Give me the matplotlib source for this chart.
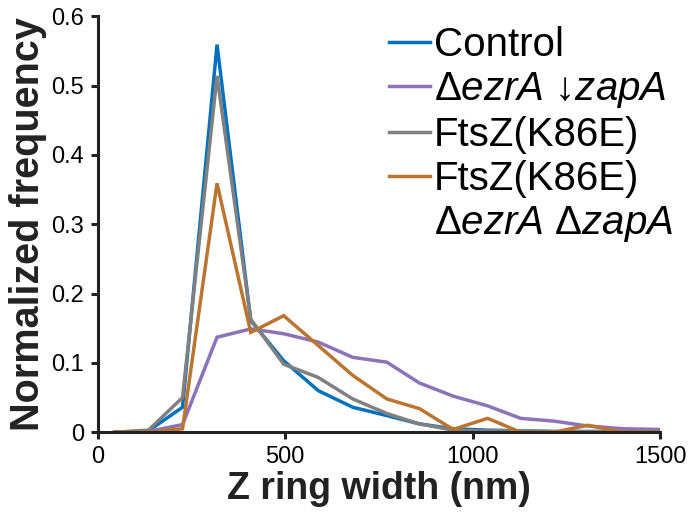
import matplotlib
matplotlib.use('Agg')
import matplotlib.pyplot as plt
from matplotlib.lines import Line2D

# Z ring width bins (nm)
width_nm = [45, 135, 226, 318, 408, 496, 588, 680, 771, 858, 948, 1040, 1128, 1217, 1307, 1402, 1500]

control = [0, 0.002, 0.036, 0.559, 0.161, 0.103, 0.060, 0.036, 0.024, 0.012, 0.005,
           0.003, 0.002, 0.001, 0.001, 0.001, 0.001]
ezra_zapa = [0, 0.001, 0.011, 0.137, 0.149, 0.142, 0.130, 0.108, 0.101, 0.071, 0.052,
             0.038, 0.020, 0.016, 0.009, 0.005, 0.004]
k86e = [0, 0.003, 0.050, 0.514, 0.163, 0.098, 0.079, 0.048, 0.027, 0.012, 0.003,
        0.002, 0.002, 0.001, 0.001, 0.001, 0.001]
k86e_ezra_zapa = [0, 0, 0.005, 0.359, 0.144, 0.168, 0.125, 0.082, 0.048, 0.034, 0.004,
                  0.020, 0, 0, 0.010, 0, 0]

labels = ['Control',
          r'$\mathit{\Delta ezrA}$ ↓$\mathit{zapA}$',
          'FtsZ(K86E)',
          'FtsZ(K86E)']
label_extra = r'$\mathit{\Delta ezrA\ \Delta zapA}$'
colors = ['#0072BD', '#8C72B8', '#808080', '#BA7530']

plt.rcParams['font.family'] = ['Liberation Sans', 'DejaVu Sans']
plt.rcParams['mathtext.fontset'] = 'custom'
plt.rcParams['mathtext.rm'] = 'Liberation Sans'
plt.rcParams['mathtext.it'] = 'Liberation Sans:italic'

fig = plt.figure(figsize=(6.89, 5.22), dpi=100)
ax = fig.add_axes([0.142, 0.172, 0.816, 0.797])

series = [control, ezra_zapa, k86e, k86e_ezra_zapa]
handles = []
for vals, lab, col in zip(series, labels, colors):
    h, = ax.plot(width_nm, vals, color=col, lw=2.5, label=lab, solid_joinstyle='miter')
    handles.append(h)

ax.set_xlim(0, 1500)
ax.set_ylim(0, 0.6)
ax.set_xticks([0, 500, 1000, 1500])
ax.set_yticks([0, 0.1, 0.2, 0.3, 0.4, 0.5, 0.6])
ax.set_yticklabels(['0', '0.1', '0.2', '0.3', '0.4', '0.5', '0.6'])

for s in ['top', 'right']:
    ax.spines[s].set_visible(False)
for s in ['left', 'bottom']:
    ax.spines[s].set_linewidth(2.2)
    ax.spines[s].set_color('#222222')
ax.tick_params(direction='out', length=5, width=2.2, color='#222222',
               labelsize=17, pad=5)

ax.set_xlabel('Z ring width (nm)', fontsize=27, fontweight='bold', color='#222222', labelpad=2)
ax.set_ylabel('Normalized frequency', fontsize=28.5, fontweight='bold', color='#222222', labelpad=3)

# second line of the last legend entry, with an empty handle
blank = Line2D([], [], color='none')
leg = ax.legend(handles + [blank], labels + [label_extra],
                loc='upper right', bbox_to_anchor=(1.066, 1.035), frameon=False,
                fontsize=29, handlelength=1.0, handletextpad=0.1,
                labelspacing=0.15, borderaxespad=0.2)
for line in leg.get_lines()[:4]:
    line.set_linewidth(2.5)

fig.savefig('out.png', dpi=100)
